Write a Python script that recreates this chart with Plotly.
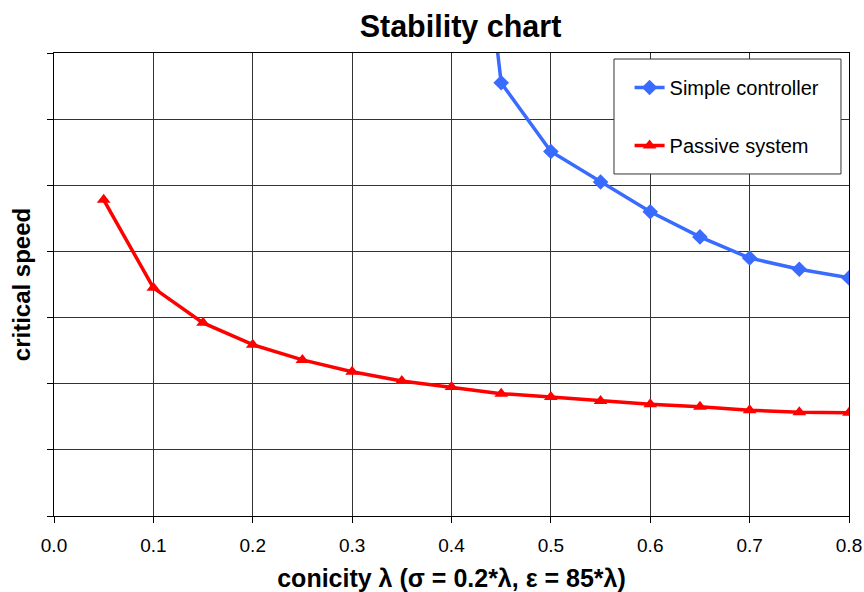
import plotly.graph_objects as go

# data (y in arbitrary units, axis has no labels)
x_passive = [0.05, 0.10, 0.15, 0.20, 0.25, 0.30, 0.35, 0.40, 0.45, 0.50, 0.55, 0.60, 0.65, 0.70, 0.75, 0.80]
y_passive = [4.78, 3.45, 2.92, 2.59, 2.36, 2.18, 2.04, 1.95, 1.85, 1.80, 1.74, 1.69, 1.65, 1.60, 1.57, 1.56]

x_simple = [0.40, 0.45, 0.50, 0.55, 0.60, 0.65, 0.70, 0.75, 0.80]
y_simple = [13.0, 6.55, 5.51, 5.05, 4.60, 4.22, 3.90, 3.73, 3.60]

x_ticks = [0.0, 0.1, 0.2, 0.3, 0.4, 0.5, 0.6, 0.7, 0.8]
x_tick_labels = ["0.0", "0.1", "0.2", "0.3", "0.4", "0.5", "0.6", "0.7", "0.8"]

fig = go.Figure()
fig.add_trace(go.Scatter(
    x=x_simple, y=y_simple, mode="lines+markers", name="Simple controller",
    line=dict(color="#3A6BFF", width=3.5),
    marker=dict(symbol="diamond", size=12, color="#3A6BFF"),
    legendgroup="a",
))
fig.add_trace(go.Scatter(
    x=x_passive, y=y_passive, mode="lines+markers", name="Passive system",
    line=dict(color="#FF0000", width=3.5),
    marker=dict(symbol="triangle-up", size=12, color="#FF0000"),
    legendgroup="b",
))

# legend frame (white box with dark border, covers gridlines)
fig.add_shape(type="rect", xref="paper", yref="paper",
              x0=0.7044, x1=0.9899, y0=0.7387, y1=0.987,
              line=dict(color="#333333", width=1), fillcolor="white",
              layer="above")

fig.update_layout(
    width=864, height=592,
    margin=dict(l=54, r=15, t=53, b=76),
    paper_bgcolor="white", plot_bgcolor="white",
    font=dict(family="Liberation Sans, Arial, sans-serif", color="black"),
    title=dict(text="<b>Stability chart</b>", x=0.533, xanchor="center",
               y=0.955, yanchor="middle", font=dict(size=30.5)),
    showlegend=True,
    legend=dict(x=0.724, y=0.9676, xanchor="left", yanchor="top",
                borderwidth=0, bgcolor="rgba(0,0,0,0)",
                font=dict(size=20), tracegroupgap=29,
                itemwidth=30),
    xaxis=dict(range=[0, 0.8], tickvals=x_ticks, ticktext=x_tick_labels,
               showgrid=True, gridcolor="#333333", gridwidth=1,
               showline=True, linecolor="black", linewidth=1, mirror=True,
               ticks="outside", ticklen=6, tickcolor="black",
               tickfont=dict(size=19), automargin=False,
               ticklabelstandoff=6,
               title=dict(text="<b>conicity λ (σ = 0.2*λ, ε = 85*λ)</b>",
                          font=dict(size=25), standoff=18),
               zeroline=False),
    yaxis=dict(range=[0, 7], dtick=1, showticklabels=False,
               showgrid=True, gridcolor="#333333", gridwidth=1,
               showline=True, linecolor="black", linewidth=1, mirror=True,
               ticks="outside", ticklen=6, tickcolor="black",
               automargin=False,
               title=dict(text="<b>critical speed</b>", font=dict(size=24),
                          standoff=9),
               zeroline=False),
)

fig.write_html("out.html")
